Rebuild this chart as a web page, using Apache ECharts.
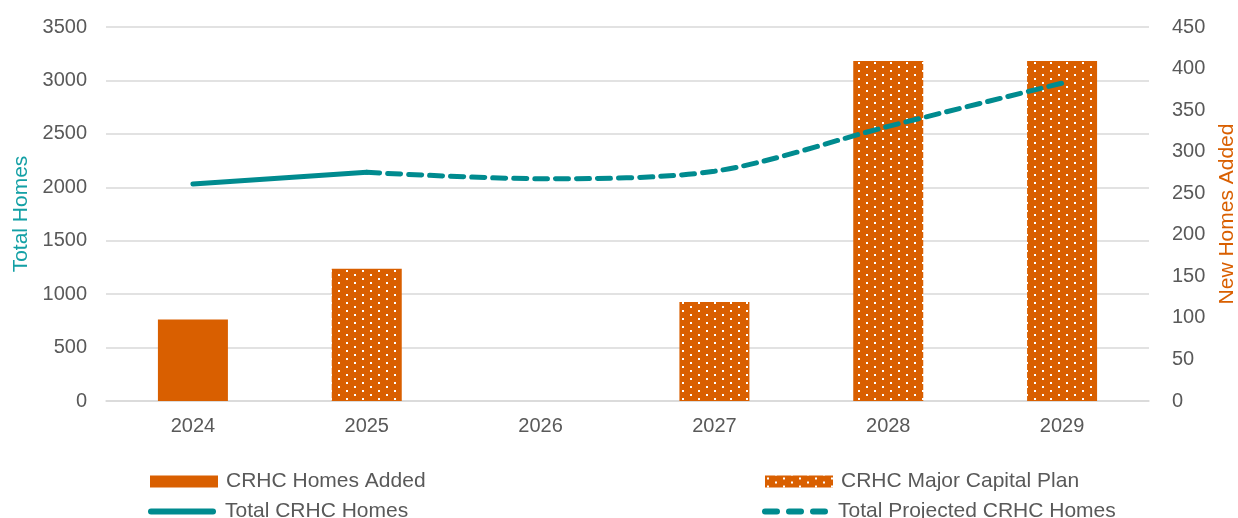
<!DOCTYPE html>
<html>
<head>
<meta charset="utf-8">
<script src="https://cdn.jsdelivr.net/npm/echarts@6/dist/echarts.min.js"></script>
<style>
  html, body { margin: 0; padding: 0; background: #fff; }
  #chart { width: 1238px; height: 518px; }
</style>
</head>
<body>
<div id="chart"></div>
<script>
// Years on the category axis
const years = ['2024', '2025', '2026', '2027', '2028', '2029'];

// New homes per year (right axis)
const homesAdded = [98, null, null, null, null, null];
const majorCapitalPlan = [null, 159, null, 119, 409, 409];

// Total homes (left axis)
const totalHomes = [2030, 2140, null, null, null, null];
const totalProjected = [null, 2140, 2080, 2150, 2570, 2975];

const ORANGE = '#D95F00';
const TEAL = '#008B8F';
const TEXT = '#595959';
const GRID = '#D9D9D9';
const FONT = '"Liberation Sans", Arial, sans-serif';

// Dotted fill: staggered small white squares on orange
function dotPattern() {
  const c = document.createElement('canvas');
  c.width = 16; c.height = 8;
  const g = c.getContext('2d');
  g.fillStyle = ORANGE;
  g.fillRect(0, 0, 16, 8);
  g.fillStyle = '#ffffff';
  g.fillRect(2, 2, 2, 2);
  g.fillRect(10, 6, 2, 2);
  return { image: c, repeat: 'repeat' };
}
const dotted = dotPattern();

// Legend glyphs for the two line series
const solidIcon = 'path://M3,0 H65 A3,3 0 0 1 65,6 H3 A3,3 0 0 1 3,0 Z';
const dashIcon = 'path://M3,0 H15 A3,3 0 0 1 15,6 H3 A3,3 0 0 1 3,0 Z ' +
  'M27,0 H39 A3,3 0 0 1 39,6 H27 A3,3 0 0 1 27,0 Z ' +
  'M51,0 H63 A3,3 0 0 1 63,6 H51 A3,3 0 0 1 51,0 Z';

const chart = echarts.init(document.getElementById('chart'), null, { renderer: 'canvas' });

const legendText = { color: TEXT, fontSize: 21, fontFamily: FONT, padding: [0, 0, 0, 3] };
const plain = v => String(v);

function legendItem(name, left, top, icon, w, h) {
  return {
    left: left, top: top, itemWidth: w, itemHeight: h, itemGap: 0,
    textStyle: legendText, padding: 0,
    data: [{ name: name, icon: icon }]
  };
}

chart.setOption({
  animation: false,
  textStyle: { fontFamily: FONT },
  grid: { left: 106, right: 89, top: 27, bottom: 117, outerBoundsMode: 'none' },
  xAxis: {
    type: 'category',
    data: years,
    axisLine: { lineStyle: { color: GRID, width: 1.5 } },
    axisTick: { show: false },
    axisLabel: { color: TEXT, fontSize: 20, margin: 15 }
  },
  yAxis: [
    {
      type: 'value', min: 0, max: 3500, interval: 500,
      name: 'Total Homes', nameLocation: 'middle', nameGap: 72, nameRotate: 90,
      nameTextStyle: { color: '#13A0A5', fontSize: 21 },
      axisLine: { show: false }, axisTick: { show: false },
      axisLabel: { color: TEXT, fontSize: 20, margin: 19, formatter: plain },
      splitLine: { lineStyle: { color: GRID, width: 1.5 } }
    },
    {
      type: 'value', min: 0, max: 450, interval: 50, position: 'right',
      name: 'New Homes Added', nameLocation: 'middle', nameGap: 59, nameRotate: 90,
      nameTextStyle: { color: ORANGE, fontSize: 21 },
      axisLine: { show: false }, axisTick: { show: false },
      axisLabel: { color: TEXT, fontSize: 20, margin: 23, formatter: plain },
      splitLine: { show: false }
    }
  ],
  legend: [
    legendItem('CRHC Homes Added', 150, 471, 'rect', 68, 12),
    legendItem('Total CRHC Homes', 148, 501, solidIcon, 70, 6),
    legendItem('CRHC Major Capital Plan', 765, 471, 'rect', 68, 12),
    legendItem('Total Projected CRHC Homes', 762, 501, dashIcon, 70, 6)
  ],
  series: [
    {
      name: 'CRHC Homes Added', type: 'bar', yAxisIndex: 1, stack: 'added',
      barWidth: 70, data: homesAdded,
      itemStyle: { color: ORANGE }
    },
    {
      name: 'CRHC Major Capital Plan', type: 'bar', yAxisIndex: 1, stack: 'added',
      barWidth: 70, data: majorCapitalPlan,
      itemStyle: { color: dotted }
    },
    {
      name: 'Total CRHC Homes', type: 'line', yAxisIndex: 0,
      data: totalHomes, symbol: 'none', smooth: 0.3, z: 5,
      itemStyle: { color: TEAL },
      lineStyle: { color: TEAL, width: 5, cap: 'round' }
    },
    {
      name: 'Total Projected CRHC Homes', type: 'line', yAxisIndex: 0,
      data: totalProjected, symbol: 'none', smooth: 0.3, z: 5,
      itemStyle: { color: TEAL },
      lineStyle: { color: TEAL, width: 5, type: [13, 8], cap: 'round' }
    }
  ]
});
</script>
</body>
</html>
